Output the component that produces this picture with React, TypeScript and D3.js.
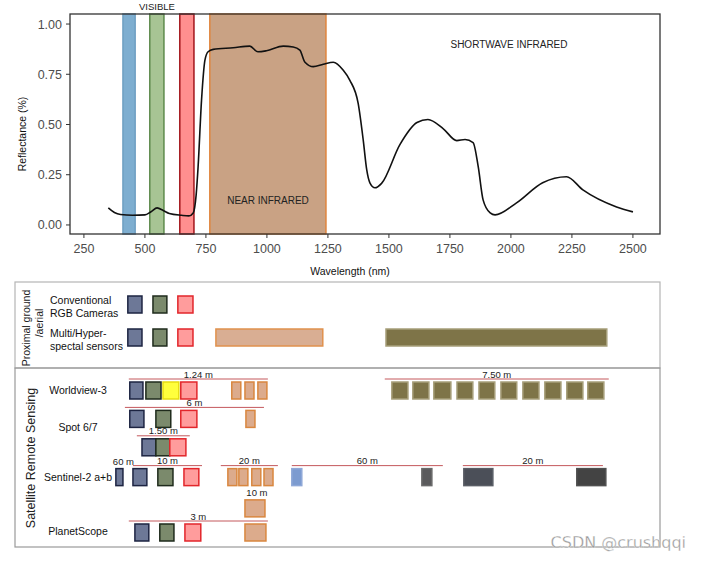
import React from 'react';
import * as d3 from 'd3';

// reflectance spectrum of vegetation
const wavelengths = [350, 375, 400, 450, 500, 525, 550, 575, 600, 650, 680, 698, 710, 718, 732, 746, 759, 780, 862, 930, 963, 998, 1067, 1108, 1135, 1156, 1190, 1231, 1272, 1313, 1340, 1374, 1395, 1409, 1422, 1443, 1470, 1545, 1615, 1660, 1722, 1778, 1812, 1845, 1866, 1886, 1915, 1935, 2023, 2130, 2228, 2295, 2433, 2500];
const reflectance = [0.085, 0.062, 0.052, 0.048, 0.05, 0.066, 0.085, 0.072, 0.057, 0.048, 0.045, 0.06, 0.15, 0.29, 0.62, 0.82, 0.862, 0.874, 0.882, 0.89, 0.862, 0.867, 0.89, 0.886, 0.87, 0.81, 0.788, 0.8, 0.81, 0.77, 0.72, 0.605, 0.42, 0.275, 0.21, 0.185, 0.207, 0.4, 0.51, 0.525, 0.48, 0.42, 0.425, 0.41, 0.29, 0.125, 0.06, 0.05, 0.11, 0.21, 0.24, 0.175, 0.09, 0.065];

const xTicks = [250, 500, 750, 1000, 1250, 1500, 1750, 2000, 2250, 2500];
const yTicks = [0, 0.25, 0.5, 0.75, 1];

const regionBands = [
  { kind: 'blue', from: 410, to: 460 },
  { kind: 'green', from: 520, to: 578 },
  { kind: 'red', from: 643, to: 701 },
  { kind: 'nir', from: 766, to: 1242 },
];

const proximalNames = [
  { row: 0, lines: ['Conventional', 'RGB Cameras'] },
  { row: 1, lines: ['Multi/Hyper-', 'spectal sensors'] },
];

const proximalBoxes = [
  { row: 0, kind: 'blue', from: 430, to: 488 },
  { row: 0, kind: 'green', from: 533, to: 590 },
  { row: 0, kind: 'red', from: 635, to: 697 },
  { row: 1, kind: 'blue', from: 430, to: 488 },
  { row: 1, kind: 'green', from: 533, to: 590 },
  { row: 1, kind: 'red', from: 635, to: 697 },
  { row: 1, kind: 'nirWide', from: 791, to: 1229 },
  { row: 1, kind: 'olive', from: 1488, to: 2393 },
];

const satelliteNames = [
  { row: 0, name: 'Worldview-3' },
  { row: 1.3, name: 'Spot 6/7' },
  { row: 3.05, name: 'Sentinel-2 a+b' },
  { row: 4.95, name: 'PlanetScope' },
];

const satelliteBoxes = [
  // Worldview-3
  { row: 0, kind: 'blue', from: 438, to: 492 },
  { row: 0, kind: 'green', from: 504, to: 566 },
  { row: 0, kind: 'yellow', from: 574, to: 639 },
  { row: 0, kind: 'red', from: 647, to: 713 },
  { row: 0, kind: 'nir', from: 856, to: 893 },
  { row: 0, kind: 'nir', from: 910, to: 947 },
  { row: 0, kind: 'nir', from: 963, to: 1000 },
  { row: 0, kind: 'olive', from: 1512, to: 1578 },
  { row: 0, kind: 'olive', from: 1598, to: 1664 },
  { row: 0, kind: 'olive', from: 1684, to: 1754 },
  { row: 0, kind: 'olive', from: 1779, to: 1844 },
  { row: 0, kind: 'olive', from: 1869, to: 1934 },
  { row: 0, kind: 'olive', from: 1959, to: 2024 },
  { row: 0, kind: 'olive', from: 2049, to: 2115 },
  { row: 0, kind: 'olive', from: 2139, to: 2205 },
  { row: 0, kind: 'olive', from: 2229, to: 2295 },
  { row: 0, kind: 'olive', from: 2315, to: 2381 },
  // Spot 6/7
  { row: 1, kind: 'blue', from: 438, to: 496 },
  { row: 1, kind: 'green', from: 545, to: 606 },
  { row: 1, kind: 'red', from: 647, to: 713 },
  { row: 1, kind: 'nir', from: 914, to: 951 },
  // Spot pan-sharpened
  { row: 2, kind: 'blue', from: 488, to: 545 },
  { row: 2, kind: 'green', from: 545, to: 602 },
  { row: 2, kind: 'red', from: 602, to: 668 },
  // Sentinel-2
  { row: 3.05, kind: 'blue', from: 381, to: 410 },
  { row: 3.05, kind: 'blue', from: 451, to: 508 },
  { row: 3.05, kind: 'green', from: 553, to: 615 },
  { row: 3.05, kind: 'red', from: 660, to: 721 },
  { row: 3.05, kind: 'nir', from: 840, to: 877 },
  { row: 3.05, kind: 'nir', from: 885, to: 922 },
  { row: 3.05, kind: 'nir', from: 938, to: 975 },
  { row: 3.05, kind: 'nir', from: 988, to: 1025 },
  { row: 3.05, kind: 'cirrus', from: 1102, to: 1143 },
  { row: 3.05, kind: 'gray', from: 1635, to: 1676 },
  { row: 3.05, kind: 'slate', from: 1807, to: 1926 },
  { row: 3.05, kind: 'charcoal', from: 2270, to: 2389 },
  // PlanetScope
  { row: 4.15, kind: 'nir', from: 910, to: 992 },
  { row: 5, kind: 'blue', from: 459, to: 516 },
  { row: 5, kind: 'green', from: 561, to: 619 },
  { row: 5, kind: 'red', from: 664, to: 729 },
  { row: 5, kind: 'nir', from: 910, to: 996 },
];

const resolutionLines = [
  { row: 0, from: 434, to: 1004, label: '1.24 m' },
  { row: 0, from: 1483, to: 2401, label: '7.50 m' },
  { row: 1, from: 418, to: 988, label: '6 m' },
  { row: 2, from: 467, to: 684, label: '1.50 m' },
  { row: 3.05, from: 451, to: 734, label: '10 m' },
  { row: 3.05, from: 811, to: 1045, label: '20 m' },
  { row: 3.05, from: 1102, to: 1721, label: '60 m' },
  { row: 3.05, from: 1803, to: 2377, label: '20 m' },
  { row: 5, from: 434, to: 1004, label: '3 m' },
];

const resolutionNotes = [
  { row: 3.05, at: 412, label: '60 m' },
  { row: 4.15, at: 959, label: '10 m' },
];

const bandStyle: Record<string, { fill: string; stroke: string }> = {
  blue: { fill: '#7eaed0', stroke: '#6f9fc2' },
  green: { fill: '#a7c494', stroke: '#5e8a4c' },
  red: { fill: '#ff8f8f', stroke: '#a3151b' },
  nir: { fill: '#c9a284', stroke: '#e0853d' },
};

const boxStyle: Record<string, { fill: string; stroke: string }> = {
  blue: { fill: '#6d7897', stroke: '#1d2442' },
  green: { fill: '#7b8a6c', stroke: '#1f2b1c' },
  red: { fill: '#ff9c9c', stroke: '#e2262b' },
  yellow: { fill: '#ffff3c', stroke: '#e6dc10' },
  nir: { fill: '#dcab8c', stroke: '#d9873f' },
  nirWide: { fill: '#d9ae93', stroke: '#e0914d' },
  olive: { fill: '#7e7448', stroke: '#a79f7a' },
  cirrus: { fill: '#7c9bd0', stroke: '#8fa8d8' },
  gray: { fill: '#5a5a5c', stroke: '#6a6a6a' },
  slate: { fill: '#4b4f58', stroke: '#5a5e66' },
  charcoal: { fill: '#434343', stroke: '#505050' },
};

const FONT = '"Liberation Sans", Arial, sans-serif';

export default function App() {
  const W = 701;
  const H = 561;
  const plot = { left: 70, right: 660, top: 14, bottom: 234 };

  const x = d3.scaleLinear().domain([193, 2611]).range([plot.left, plot.right]);
  const y = d3.scaleLinear().domain([-0.045, 1.05]).range([plot.bottom, plot.top]);

  const proxRow = d3.scaleLinear().domain([0, 1]).range([296, 329]);
  const satRow = d3.scaleLinear().domain([0, 5]).range([382, 524]);
  const boxH = 17;

  const line = d3
    .line<number>()
    .x((_, i) => x(wavelengths[i]))
    .y((d) => y(d))
    .curve(d3.curveMonotoneX);

  return (
    <svg
      width={W}
      height={H}
      style={{ position: 'absolute', left: 0, top: 0, background: '#fff' }}
      fontFamily={FONT}
    >
      {/* spectral regions */}
      {regionBands.map((b) => (
        <rect
          key={b.kind}
          x={x(b.from)}
          y={plot.top}
          width={x(b.to) - x(b.from)}
          height={plot.bottom - plot.top}
          fill={bandStyle[b.kind].fill}
          stroke={bandStyle[b.kind].stroke}
          strokeWidth={1.5}
        />
      ))}

      <path d={line(reflectance) || ''} fill="none" stroke="#111" strokeWidth={1.6} />

      <rect
        x={plot.left}
        y={plot.top}
        width={plot.right - plot.left}
        height={plot.bottom - plot.top}
        fill="none"
        stroke="#333"
        strokeWidth={1.3}
      />

      {/* axes */}
      {xTicks.map((t) => (
        <g key={t} transform={`translate(${x(t)},${plot.bottom})`}>
          <line y2={4} stroke="#333" />
          <text y={19} textAnchor="middle" fontSize={12.5} fill="#4d4d4d">
            {t}
          </text>
        </g>
      ))}
      {yTicks.map((t) => (
        <g key={t} transform={`translate(${plot.left},${y(t)})`}>
          <line x2={-4} stroke="#333" />
          <text x={-8} dy="0.36em" textAnchor="end" fontSize={12.5} fill="#4d4d4d">
            {t.toFixed(2)}
          </text>
        </g>
      ))}
      <text x={350} y={275} textAnchor="middle" fontSize={10.5} fill="#111">
        Wavelength (nm)
      </text>
      <text transform="translate(26,134) rotate(-90)" textAnchor="middle" fontSize={10.5} fill="#111">
        Reflectance (%)
      </text>

      <text x={157} y={10} textAnchor="middle" fontSize={9.5} fill="#222">
        VISIBLE
      </text>
      <text x={268} y={204} textAnchor="middle" fontSize={10} fill="#222">
        NEAR INFRARED
      </text>
      <text x={509} y={48} textAnchor="middle" fontSize={10} fill="#222">
        SHORTWAVE INFRARED
      </text>

      {/* proximal ground / aerial panel */}
      <rect x={15} y={282} width={645} height={86} fill="none" stroke="#b5b5b5" strokeWidth={1.2} />
      <text transform="translate(30,328) rotate(-90)" textAnchor="middle" fontSize={10.5} fill="#222">
        Proximal ground
      </text>
      <text transform="translate(43,323) rotate(-90)" textAnchor="middle" fontSize={10.5} fill="#222">
        /aerial
      </text>
      {proximalNames.map((n) => (
        <text key={n.row} x={50} y={proxRow(n.row) + 7.5} fontSize={10.5} fill="#111">
          {n.lines.map((l, i) => (
            <tspan key={l} x={50} dy={i === 0 ? 0 : 13}>
              {l}
            </tspan>
          ))}
        </text>
      ))}
      {proximalBoxes.map((b, i) => (
        <rect
          key={i}
          x={x(b.from)}
          y={proxRow(b.row)}
          width={x(b.to) - x(b.from)}
          height={boxH}
          fill={boxStyle[b.kind].fill}
          stroke={boxStyle[b.kind].stroke}
          strokeWidth={1.5}
        />
      ))}

      {/* satellite panel */}
      <rect x={15} y={368} width={645} height={179} fill="none" stroke="#9a9a9a" strokeWidth={1.2} />
      <text transform="translate(35,458) rotate(-90)" textAnchor="middle" fontSize={12.5} fill="#222">
        Satellite Remote Sensing
      </text>
      {satelliteNames.map((s) => (
        <text
          key={s.name}
          x={78}
          y={satRow(s.row) + boxH / 2}
          dy="0.35em"
          textAnchor="middle"
          fontSize={10.5}
          fill="#111"
        >
          {s.name}
        </text>
      ))}
      {resolutionLines.map((r, i) => (
        <g key={i}>
          <line
            x1={x(r.from)}
            x2={x(r.to)}
            y1={satRow(r.row) - 3}
            y2={satRow(r.row) - 3}
            stroke="#c4585c"
            strokeWidth={1}
          />
          <text
            x={(x(r.from) + x(r.to)) / 2}
            y={satRow(r.row) - 4.5}
            textAnchor="middle"
            fontSize={9.5}
            fill="#222"
          >
            {r.label}
          </text>
        </g>
      ))}
      {resolutionNotes.map((r, i) => (
        <text key={i} x={x(r.at)} y={satRow(r.row) - 4} textAnchor="middle" fontSize={9.5} fill="#222">
          {r.label}
        </text>
      ))}
      {satelliteBoxes.map((b, i) => (
        <rect
          key={i}
          x={x(b.from)}
          y={satRow(b.row)}
          width={x(b.to) - x(b.from)}
          height={boxH}
          fill={boxStyle[b.kind].fill}
          stroke={boxStyle[b.kind].stroke}
          strokeWidth={1.5}
        />
      ))}

      <text
        x={686}
        y={548}
        textAnchor="end"
        fontSize={16}
        fill="#9a9a9a"
        stroke="#fff"
        strokeWidth={0.3}
        fontFamily='"DejaVu Sans", sans-serif'
      >
        CSDN @crushqqi
      </text>
    </svg>
  );
}
